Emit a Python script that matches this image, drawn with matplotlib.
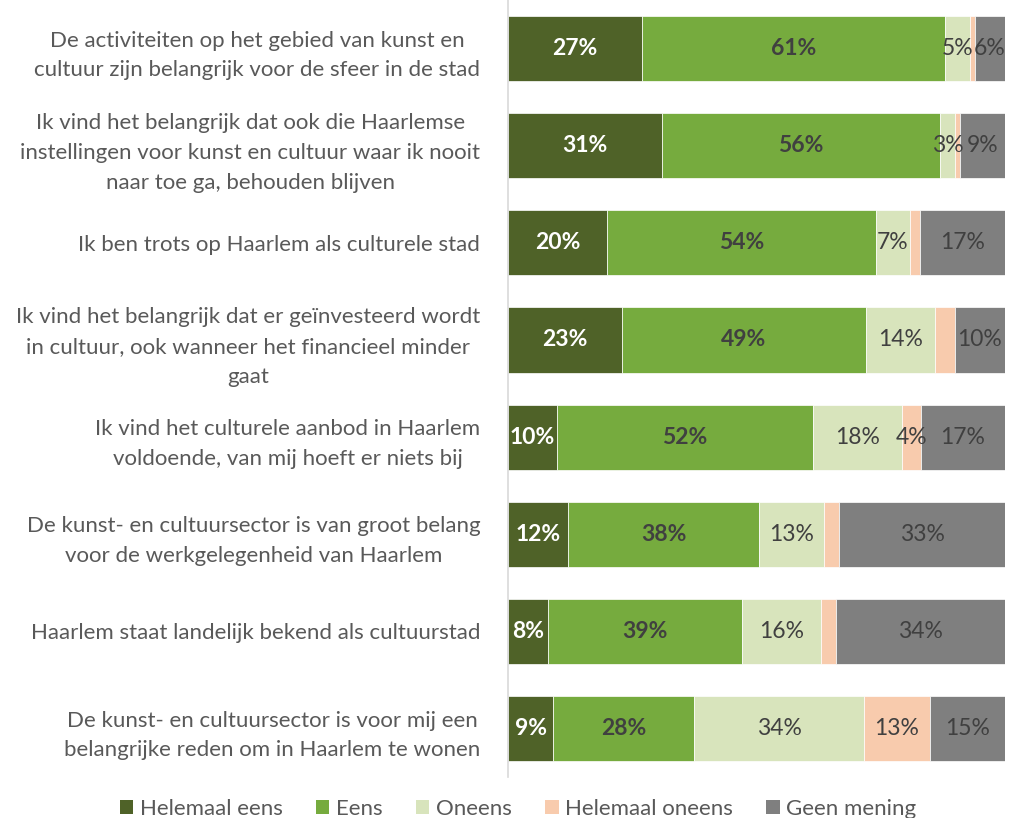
import numpy as np
from matplotlib import pyplot as plt
from matplotlib.patches import Patch

# statements (top to bottom)
statements = [
    "De activiteiten op het gebied van kunst en\ncultuur zijn belangrijk voor de sfeer in de stad",
    "Ik vind het belangrijk dat ook die Haarlemse\ninstellingen voor kunst en cultuur waar ik nooit\nnaar toe ga, behouden blijven",
    "Ik ben trots op Haarlem als culturele stad",
    "Ik vind het belangrijk dat er geïnvesteerd wordt\nin cultuur, ook wanneer het financieel minder\ngaat",
    "Ik vind het culturele aanbod in Haarlem\nvoldoende, van mij hoeft er niets bij",
    "De kunst- en cultuursector is van groot belang\nvoor de werkgelegenheid van Haarlem",
    "Haarlem staat landelijk bekend als cultuurstad",
    "De kunst- en cultuursector is voor mij een\nbelangrijke reden om in Haarlem te wonen",
]

series = ["Helemaal eens", "Eens", "Oneens", "Helemaal oneens", "Geen mening"]
helemaal_eens = [27, 31, 20, 23, 10, 12, 8, 9]
eens = [61, 56, 54, 49, 52, 38, 39, 28]
oneens = [5, 3, 7, 14, 18, 13, 16, 34]
helemaal_oneens = [1, 1, 2, 4, 4, 3, 3, 13]
geen_mening = [6, 9, 17, 10, 17, 33, 34, 15]
# which "helemaal oneens" values carry a label in the original
ho_labelled = [False, False, False, False, True, False, False, True]

colors = ["#4F6228", "#76AB3E", "#D8E4BC", "#F8CBAD", "#7F7F7F"]
txt_colors = ["white", "#404040", "#404040", "#404040", "#404040"]
weights = ["bold", "bold", "normal", "normal", "normal"]

plt.rcParams['font.family'] = ['Lato', 'DejaVu Sans']

data = np.array([helemaal_eens, eens, oneens, helemaal_oneens, geen_mening], dtype=float)
shares = data / data.sum(axis=0) * 100

fig = plt.figure(figsize=(10.16, 8.18), dpi=100)
ax = fig.add_axes([0.5, 0.05, 0.489, 0.95])

y = np.arange(len(statements))
left = np.zeros(len(statements))
for i in range(len(series)):
    ax.barh(y, shares[i], left=left, height=0.67, color=colors[i],
            edgecolor="white", linewidth=0.5, label=series[i])
    for j in range(len(statements)):
        if i == 3 and not ho_labelled[j]:
            continue
        ax.text(left[j] + shares[i, j] / 2, y[j], "%d%%" % data[i, j],
                ha="center", va="center", fontsize=16.5,
                color=txt_colors[i], fontweight=weights[i])
    left += shares[i]

ax.set_xlim(0, 100)
ax.set_ylim(len(statements) - 0.5, -0.5)
ax.set_yticks(y)
ax.set_yticklabels(statements, fontsize=16, color="#595959",
                   multialignment="center", linespacing=1.62)
ax.tick_params(axis="y", length=0, pad=20)
ax.set_xticks([])
for s in ["top", "right", "bottom"]:
    ax.spines[s].set_visible(False)
ax.spines["left"].set_color("#D9D9D9")
ax.spines["left"].set_linewidth(1.2)

handles = [Patch(facecolor=c, edgecolor="none") for c in colors]
fig.legend(handles, series, loc="lower center", bbox_to_anchor=(0.51, -0.026),
           ncol=5, frameon=False, fontsize=16, handlelength=0.6,
           handleheight=0.6, handletextpad=0.3, columnspacing=1.5,
           labelcolor="#595959")

fig.savefig("out.png", dpi=100)
